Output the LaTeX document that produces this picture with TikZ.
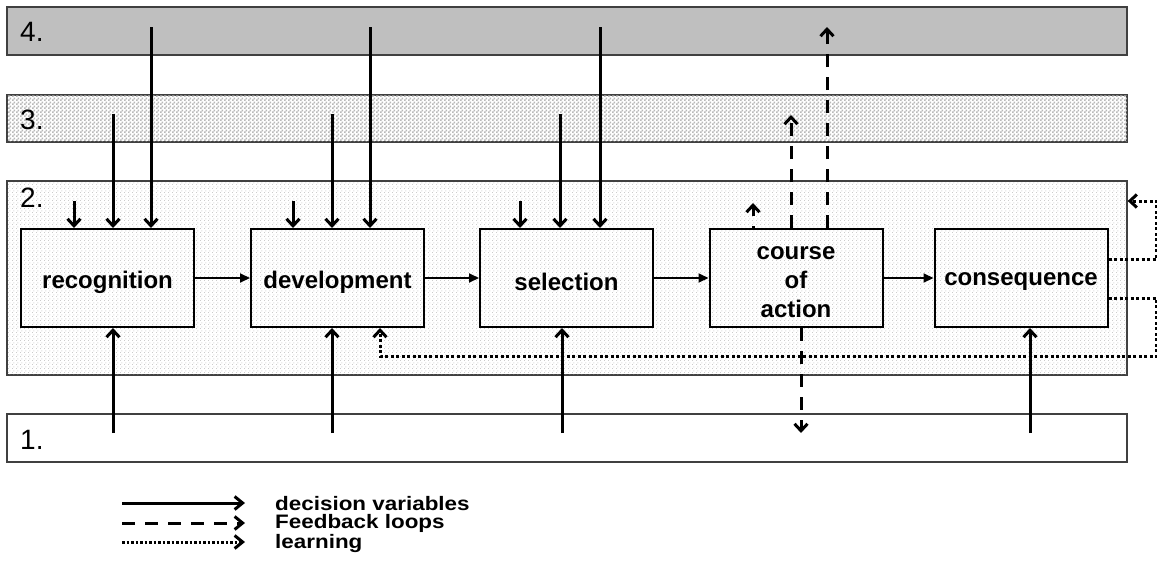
\documentclass[tikz,border=0pt]{standalone}
\usepackage{fontspec}
\setmainfont{Liberation Sans}
\usetikzlibrary{arrows.meta,patterns.meta}

% small checkerboard for layer 3
\pgfdeclarepattern{name=chequer, type=uncolored,
  bottom left={\pgfpoint{0pt}{0pt}}, top right={\pgfpoint{4pt}{4pt}},
  tile size={\pgfpoint{4pt}{4pt}},
  code={\pgfpathrectangle{\pgfpoint{0pt}{0pt}}{\pgfpoint{2pt}{2pt}}
        \pgfpathrectangle{\pgfpoint{2pt}{2pt}}{\pgfpoint{2pt}{2pt}}
        \pgfusepath{fill}}}
% sparse fine dots for layer 2
\pgfdeclarepattern{name=finedots, type=uncolored,
  bottom left={\pgfpoint{0pt}{0pt}}, top right={\pgfpoint{4pt}{4pt}},
  tile size={\pgfpoint{4pt}{4pt}},
  code={\pgfpathrectangle{\pgfpoint{0pt}{0pt}}{\pgfpoint{0.8pt}{1.2pt}}
        \pgfpathrectangle{\pgfpoint{2pt}{2pt}}{\pgfpoint{0.8pt}{1.2pt}}
        \pgfusepath{fill}}}

\tikzset{
  band/.style={draw=black!75, line width=1.3pt, minimum width=1120pt, inner sep=0pt},
  bandlabel/.style={anchor=west, inner sep=0pt, font=\fontsize{28}{28}\selectfont},
  stage/.style={draw, line width=2pt, minimum width=173pt, minimum height=98pt,
                inner sep=0pt, align=center,
                font=\fontsize{24}{29}\selectfont\bfseries},
  vin/.style={line width=3pt, -{Straight Barb[length=7pt,width=13pt]}},
  flow/.style={line width=2pt, -{Triangle[length=10pt,width=9pt]}},
  fback/.style={line width=3pt, dash pattern=on 13pt off 10pt,
                -{Straight Barb[length=7pt,width=13pt]}},
  learn/.style={line width=3pt, dash pattern=on 3pt off 2.5pt,
                -{Straight Barb[length=7pt,width=13pt]}},
  legtext/.style={anchor=west, inner sep=0pt,
                  font=\fontsize{19.5}{19.5}\selectfont\bfseries},
}

\newcommand{\widen}[1]{\scalebox{1.15}[1]{#1}}
% set a word a little lower without changing its box
\newcommand{\lowered}[1]{\raisebox{-4pt}[\height][\depth]{#1}}

\begin{document}
\begin{tikzpicture}[x=1pt, y=-1pt]
\useasboundingbox (0,0) rectangle (1157,573);

% ---- the four layers ----
\node[band, minimum height=48pt, fill=black!25] (b4) at (567,31) {};
\node[band, minimum height=47pt, fill=white] (b3) at (567,118.5) {};
\fill[pattern={chequer}, pattern color=black!28] (b3.south west) rectangle (b3.north east);
\draw[draw=black!75, line width=1.3pt] (b3.south west) rectangle (b3.north east);
\node[band, minimum height=194pt, fill=white] (b2) at (567,278) {};
\fill[pattern={finedots}, pattern color=black!30] (b2.south west) rectangle (b2.north east);
\draw[draw=black!75, line width=1.3pt] (b2.south west) rectangle (b2.north east);
\node[band, minimum height=48pt, fill=white] (b1) at (567,438) {};

\node[bandlabel] (l4) at (20,32) {4.};
\node[bandlabel] (l3) at (20,120) {3.};
\node[bandlabel] (l2) at (20,198) {2.};
\node[bandlabel] (l1) at (20,440) {1.};

% ---- stages of the process ----
\node[stage] (rec) at (107.5,278) {\lowered{recognition}};
\node[stage] (dev) at (337.5,278) {\lowered{development}};
\node[stage] (sel) at (566.5,278) {\lowered{selection}};
\node[stage] (coa) at (796,278) {\lowered{course}\\\lowered{of}\\\lowered{action}};
\node[stage] (con) at (1021,278) {\lowered{consequence}};

\draw[flow] (rec) -- (dev);
\draw[flow] (dev) -- (sel);
\draw[flow] (sel) -- (coa);
\draw[flow] (coa) -- (con);

% ---- decision variables from the layers above ----
\coordinate (r2) at (74,201);   \coordinate (r3) at (113,114);  \coordinate (r4) at (151,27);
\coordinate (d2) at (293,201);  \coordinate (d3) at (332,114);  \coordinate (d4) at (370,27);
\coordinate (s2) at (520,201);  \coordinate (s3) at (560,114);  \coordinate (s4) at (600,27);
\foreach \c/\n in {r2/rec,r3/rec,r4/rec,d2/dev,d3/dev,d4/dev,s2/sel,s3/sel,s4/sel}
  \draw[vin] (\c) -- (\c |- \n.north);

% ---- decision variables from layer 1 ----
\coordinate (r1) at (113,433);
\coordinate (d1) at (332,433);
\coordinate (s1) at (562,433);
\coordinate (c1) at (1030,433);
\draw[vin] (r1) -- (r1 |- rec.south);
\draw[vin] (d1) -- (d1 |- dev.south);
\draw[vin] (s1) -- (s1 |- sel.south);
\draw[vin] (c1) -- (c1 |- con.south);

% ---- feedback loops from the course of action ----
\coordinate (f2) at (753,203);
\coordinate (f3) at (791,115);
\coordinate (f4) at (827,27);
\coordinate (f1) at (801,433);
\draw[fback, dash phase=11pt] (f2 |- coa.north) -- (f2);
\draw[fback] (f3 |- coa.north) -- (f3);
\draw[fback] (f4 |- coa.north) -- (f4);
\draw[fback] (f1 |- coa.south) -- (f1);

% ---- learning loops from the consequence ----
\draw[learn] ([yshift=19pt]con.east) -- ++(48,0) |- (b2.east |- 0,201);
\draw[learn] ([yshift=-20pt]con.east) -- ++(48,0) -- ++(0,58) -| ([xshift=42.5pt]dev.south);

% ---- legend ----
\coordinate (ka) at (122,503); \coordinate (kb) at (245,503);
\coordinate (kc) at (122,523); \coordinate (kd) at (245,523);
\coordinate (ke) at (122,542); \coordinate (kf) at (245,542);
\draw[vin, -{Straight Barb[length=8pt,width=13pt]}] (ka) -- (kb);
\draw[fback, -{Straight Barb[length=8pt,width=13pt]}] (kc) -- (kd);
\draw[learn, dash pattern=on 2.5pt off 2pt, -{Straight Barb[length=8pt,width=13pt]}] (ke) -- (kf);
\node[legtext] (t1) at (275,503.5) {\widen{decision variables}};
\node[legtext] (t2) at (275,523.5) {\widen{Feedback loops}};
\node[legtext] (t3) at (275,543) {\widen{learning}};
\end{tikzpicture}
\end{document}
